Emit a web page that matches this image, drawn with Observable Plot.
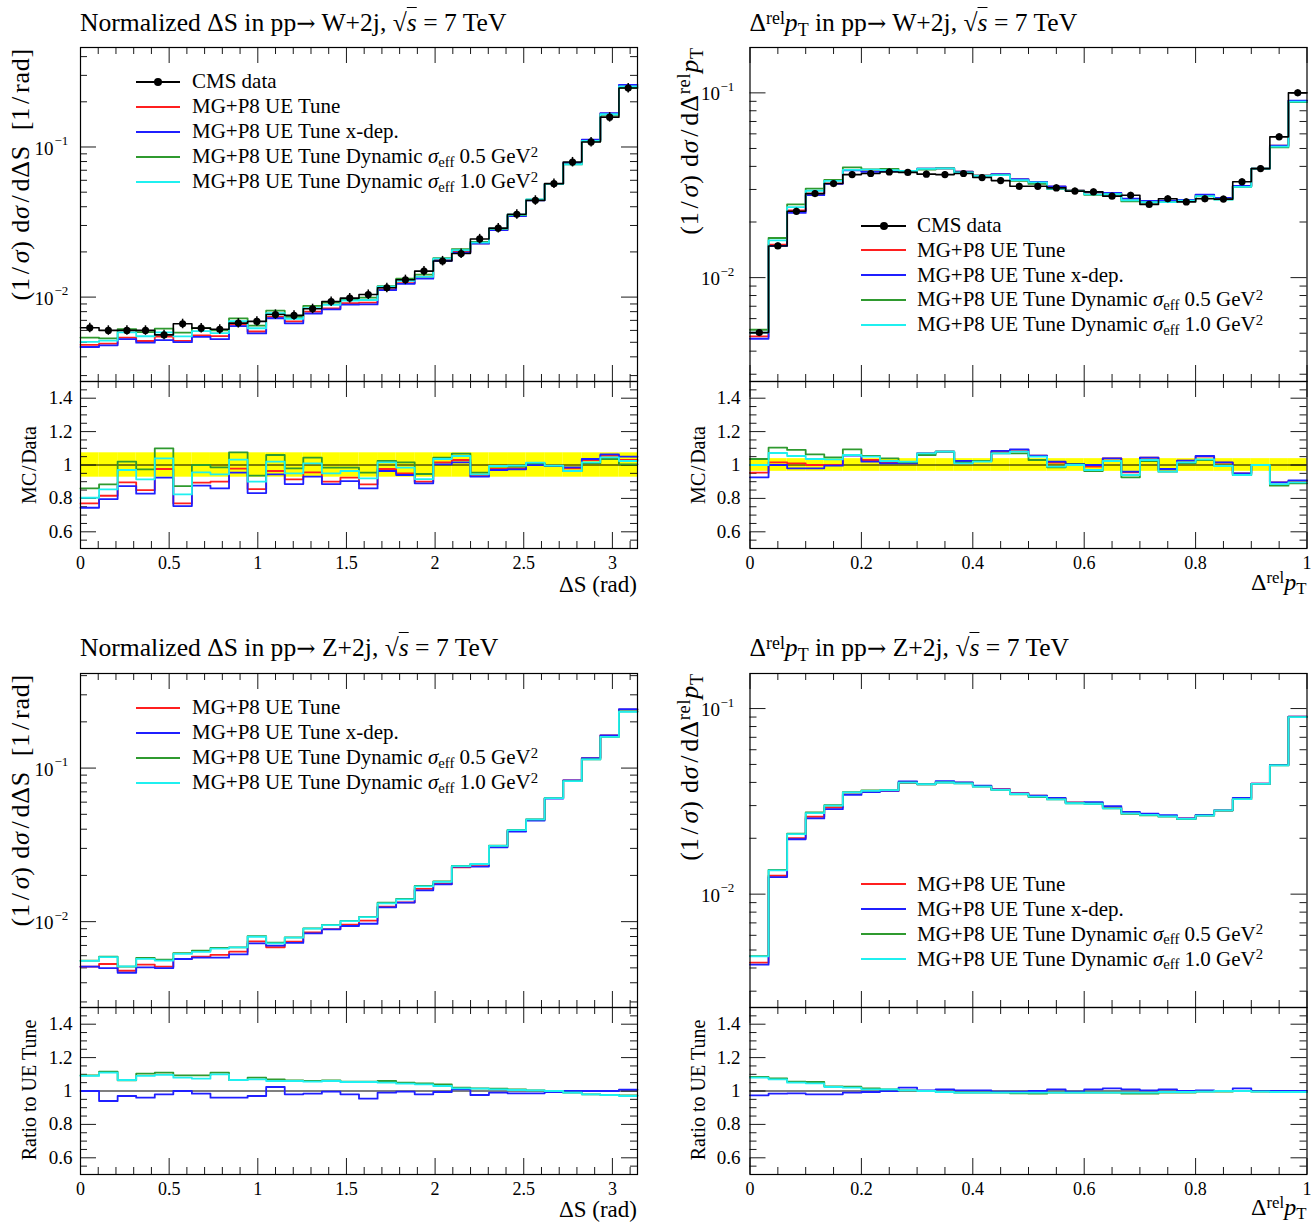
<!DOCTYPE html>
<html>
<head>
<meta charset="utf-8">
<script src="https://cdn.jsdelivr.net/npm/d3@7"></script>
<script src="https://cdn.jsdelivr.net/npm/@observablehq/plot@0.6"></script>
<style>
  html, body { margin: 0; padding: 0; background: #fff; }
  #page { position: relative; width: 1316px; height: 1222px; overflow: hidden; background: #fff;
          font-family: "Liberation Serif", "DejaVu Serif", serif; color: #000; }
  #page > svg { position: absolute; }
  .lbl { position: absolute; white-space: nowrap; line-height: 1; }
  .sup { position: relative; top: -0.42em; font-size: 70%; }
  .sub { position: relative; top: 0.25em; font-size: 70%; }
  .ovl { text-decoration: overline; text-decoration-thickness: 1.4px; }
  .arr { font-family: "DejaVu Serif", serif; font-size: 90%; }
  .legline { position: absolute; height: 2px; }
  .legdot { position: absolute; width: 8px; height: 8px; border-radius: 50%; background: #000; }
</style>
</head>
<body>
<div id="page"></div>
<script>
// ---------------------------------------------------------------------------
// Binning: 30 equal bins in ΔS over [0, π] and in Δrel pT over [0, 1]
// ---------------------------------------------------------------------------
const dsEdges = d3.range(31).map(i => i * Math.PI / 30);
const ptEdges = d3.range(31).map(i => i / 30);

// Axis ticks and labels
const dsTicks = [0, 0.5, 1, 1.5, 2, 2.5, 3];
const dsTickLabels = ["0", "0.5", "1", "1.5", "2", "2.5", "3"];
const ptTicks = [0, 0.2, 0.4, 0.6, 0.8, 1];
const ptTickLabels = ["0", "0.2", "0.4", "0.6", "0.8", "1"];
const ratioTicks = [0.6, 0.8, 1, 1.2, 1.4];
const ratioTickLabels = ["0.6", "0.8", "1", "1.2", "1.4"];
const logTicks = [0.01, 0.1];
const logTickExponents = ["\u22122", "\u22121"];

// Series names and colours
const seriesNames = [
  "CMS data",
  "MG+P8 UE Tune",
  "MG+P8 UE Tune x-dep.",
  "MG+P8 UE Tune Dynamic <i>σ</i><span class='sub'>eff</span> 0.5 GeV<span class='sup'>2</span>",
  "MG+P8 UE Tune Dynamic <i>σ</i><span class='sub'>eff</span> 1.0 GeV<span class='sup'>2</span>"
];
const seriesColors = ["#000000", "#ff1f1f", "#1f1fff", "#2f9a2f", "#1ff0f0"];

// ---------------------------------------------------------------------------
// pp -> W+2j, normalized ΔS: CMS data and MC/Data ratios
// ---------------------------------------------------------------------------
const wDsData = [0.00625, 0.0060, 0.0060, 0.0060, 0.0056, 0.00664, 0.00621, 0.0061, 0.00671, 0.00689,
                 0.00766, 0.00755, 0.00836, 0.00935, 0.00985, 0.0104, 0.01154, 0.01305, 0.0149, 0.0174,
                 0.0195, 0.0244, 0.0288, 0.0356, 0.0441, 0.057, 0.0794, 0.108, 0.158, 0.247];
const wDsErr = [0.073, 0.073, 0.073, 0.073, 0.073, 0.073, 0.073, 0.073, 0.073, 0.073,
                0.073, 0.073, 0.073, 0.073, 0.073, 0.073, 0.073, 0.073, 0.073, 0.073,
                0.073, 0.073, 0.073, 0.073, 0.073, 0.073, 0.073, 0.073, 0.073, 0.073];
const wDsRatioUE = [0.77, 0.816, 0.896, 0.85, 0.976, 0.77, 0.894, 0.9, 0.978, 0.856,
                    0.964, 0.914, 0.956, 0.9, 0.924, 0.884, 0.976, 0.95, 0.9, 1.016,
                    1.03, 0.934, 0.976, 0.98, 1.008, 0.996, 0.98, 1.03, 1.056, 1.03];
const wDsRatioXdep = [0.744, 0.796, 0.874, 0.828, 0.924, 0.754, 0.876, 0.86, 0.954, 0.832,
                      0.944, 0.886, 0.93, 0.886, 0.904, 0.86, 0.964, 0.94, 0.89, 1.004,
                      1.016, 0.93, 0.97, 0.974, 1.0, 0.994, 0.986, 1.036, 1.064, 1.05];
const wDsRatioDyn05 = [0.86, 0.884, 1.02, 0.974, 1.1, 0.874, 1.0, 0.986, 1.076, 0.936,
                       1.06, 0.98, 1.044, 0.984, 0.984, 0.954, 1.024, 1.016, 0.946, 1.044,
                       1.068, 0.954, 0.99, 0.99, 1.01, 0.996, 0.964, 1.01, 1.036, 1.004];
const wDsRatioDyn10 = [0.804, 0.854, 0.97, 0.914, 1.04, 0.824, 0.956, 0.944, 1.032, 0.9,
                       1.02, 0.95, 1.01, 0.95, 0.964, 0.92, 1.016, 0.984, 0.916, 1.036,
                       1.054, 0.944, 0.994, 0.996, 1.014, 0.996, 0.964, 1.016, 1.046, 1.024];

// ---------------------------------------------------------------------------
// pp -> W+2j, Δrel pT: CMS data and MC/Data ratios
// ---------------------------------------------------------------------------
const wPtData = [0.00504, 0.01484, 0.02286, 0.0285, 0.0323, 0.0361, 0.0366, 0.0373, 0.0371, 0.0363,
                 0.0361, 0.0366, 0.0348, 0.0335, 0.0312, 0.0312, 0.0306, 0.0294, 0.0291, 0.0276,
                 0.0279, 0.0249, 0.0267, 0.0257, 0.0267, 0.0266, 0.033, 0.0389, 0.0578, 0.1];
const wPtErr = [0.038, 0.038, 0.038, 0.038, 0.038, 0.038, 0.038, 0.038, 0.038, 0.038,
                0.038, 0.038, 0.038, 0.038, 0.038, 0.038, 0.038, 0.038, 0.038, 0.038,
                0.038, 0.038, 0.038, 0.038, 0.038, 0.038, 0.038, 0.038, 0.038, 0.038];
const wPtRatioUE = [0.954, 1.016, 1.01, 1.0, 1.0, 1.06, 1.03, 1.014, 1.01, 1.07,
                    1.08, 1.024, 1.024, 1.08, 1.09, 1.056, 1.014, 1.006, 0.99, 1.04,
                    0.956, 1.044, 0.974, 1.026, 1.05, 1.014, 0.95, 1.0, 0.896, 0.904];
const wPtRatioXdep = [0.926, 1.0, 0.98, 0.98, 0.996, 1.056, 1.02, 1.01, 1.01, 1.07,
                      1.08, 1.024, 1.024, 1.084, 1.094, 1.056, 1.02, 1.006, 1.0, 1.04,
                      0.96, 1.044, 0.976, 1.026, 1.054, 1.016, 0.95, 1.0, 0.896, 0.908];
const wPtRatioDyn05 = [1.036, 1.104, 1.09, 1.064, 1.046, 1.094, 1.054, 1.04, 1.016, 1.06,
                       1.08, 1.014, 1.024, 1.07, 1.07, 1.03, 0.986, 1.004, 0.964, 1.024,
                       0.926, 1.024, 0.96, 1.01, 1.03, 0.996, 0.94, 1.0, 0.876, 0.89];
const wPtRatioDyn10 = [1.0, 1.072, 1.054, 1.036, 1.034, 1.06, 1.05, 1.024, 1.02, 1.07,
                       1.08, 1.01, 1.02, 1.07, 1.08, 1.05, 0.99, 1.0, 0.97, 1.024,
                       0.94, 1.03, 0.96, 1.016, 1.034, 0.994, 0.94, 1.0, 0.886, 0.896];

// ---------------------------------------------------------------------------
// pp -> Z+2j, normalized ΔS: UE Tune and ratios to UE Tune
// ---------------------------------------------------------------------------
const zDsUE = [0.00509, 0.0053, 0.00479, 0.00525, 0.00509, 0.00571, 0.00592, 0.00607, 0.00637, 0.00745,
               0.00681, 0.00742, 0.00852, 0.00895, 0.00956, 0.01016, 0.01253, 0.01337, 0.01633, 0.0176,
               0.0226, 0.0234, 0.0308, 0.0392, 0.0462, 0.0637, 0.0831, 0.1162, 0.1634, 0.24];
const zDsRatioXdep = [1.0, 0.94, 0.97, 0.96, 0.98, 1.0, 0.984, 0.96, 0.96, 0.97,
                      1.024, 0.98, 0.984, 0.996, 0.98, 0.954, 0.99, 0.996, 0.98, 0.994,
                      1.01, 0.976, 0.99, 0.986, 0.986, 0.994, 1.0, 1.0, 1.0, 1.008];
const zDsRatioDyn05 = [1.094, 1.116, 1.064, 1.104, 1.11, 1.094, 1.094, 1.11, 1.066, 1.08,
                       1.07, 1.064, 1.06, 1.064, 1.056, 1.056, 1.06, 1.05, 1.046, 1.04,
                       1.02, 1.016, 1.014, 1.01, 1.004, 1.0, 0.99, 0.98, 0.976, 0.974];
const zDsRatioDyn10 = [1.09, 1.11, 1.066, 1.09, 1.096, 1.08, 1.074, 1.1, 1.066, 1.07,
                       1.06, 1.06, 1.056, 1.06, 1.054, 1.054, 1.05, 1.044, 1.04, 1.03,
                       1.016, 1.014, 1.01, 1.006, 1.004, 1.0, 0.99, 0.98, 0.976, 0.97];

// ---------------------------------------------------------------------------
// pp -> Z+2j, Δrel pT: UE Tune and ratios to UE Tune
// ---------------------------------------------------------------------------
const zPtUE = [0.00428, 0.01256, 0.02004, 0.02612, 0.0293, 0.0346, 0.0357, 0.036, 0.0397, 0.0391,
               0.0402, 0.0399, 0.0383, 0.0368, 0.035, 0.0339, 0.0327, 0.0312, 0.031, 0.0293,
               0.0275, 0.027, 0.0264, 0.0256, 0.0266, 0.0283, 0.0325, 0.0394, 0.0497, 0.0905];
const zPtRatioXdep = [0.974, 0.984, 0.986, 0.98, 0.98, 0.99, 0.994, 1.0, 1.02, 1.004,
                      1.01, 1.004, 1.004, 0.996, 0.996, 1.0, 1.01, 0.996, 1.01, 1.016,
                      1.01, 1.004, 1.01, 1.0, 1.004, 1.0, 1.016, 1.0, 1.0, 1.0];
const zPtRatioDyn05 = [1.084, 1.076, 1.056, 1.054, 1.028, 1.026, 1.016, 1.01, 1.004, 1.0,
                       0.994, 0.99, 0.99, 0.99, 0.986, 0.984, 0.99, 0.99, 0.99, 0.99,
                       0.984, 0.984, 0.99, 0.99, 0.996, 0.996, 1.0, 0.996, 0.994, 0.994];
const zPtRatioDyn10 = [1.08, 1.07, 1.05, 1.046, 1.024, 1.02, 1.01, 1.01, 1.004, 1.0,
                       0.994, 0.99, 0.99, 0.99, 0.99, 0.99, 0.99, 0.99, 0.99, 0.99,
                       0.99, 0.99, 0.994, 0.994, 0.996, 1.0, 1.0, 0.996, 0.994, 0.994];

// ---------------------------------------------------------------------------
// Helpers
// ---------------------------------------------------------------------------
const page = document.getElementById("page");
const FONT = '"Liberation Serif", "DejaVu Serif", serif';
const TICK_MAJOR = 16, TICK_MINOR = 7;
const LINE_W = 1.8;

const times = (base, ratio) => base.map((v, i) => v * ratio[i]);
// histogram outline as a polyline through both edges of every bin
const steps = (edges, vals) => vals.flatMap((v, i) => [[edges[i], v], [edges[i + 1], v]]);
const notIn = (majors) => (v) => !majors.some(m => Math.abs(m - v) < 1e-9);

const dsMinor = d3.range(1, 32).map(i => i / 10).filter(notIn(dsTicks));
const ptMinor = d3.range(1, 20).map(i => i / 20).filter(notIn(ptTicks));
const ratioMinor = d3.range(11, 30).map(i => i / 20).filter(notIn(ratioTicks));
function logMinor([lo, hi]) {
  const out = [];
  for (let e = -4; e <= 0; e++) for (let m = 2; m <= 9; m++) {
    const v = m * Math.pow(10, e);
    if (v > lo && v < hi) out.push(v);
  }
  return out;
}

// inward ticks on all four sides of the frame
function frameTicks(xMaj, xMin, yMaj, yMin, innerW, innerH) {
  const s = {stroke: "#1a1a1a", strokeWidth: 1};
  const marks = [];
  for (const [vals, len] of [[xMaj, TICK_MAJOR], [xMin, TICK_MINOR]]) {
    marks.push(Plot.tickX(vals, {x: d => d, insetTop: innerH - len, ...s}));
    marks.push(Plot.tickX(vals, {x: d => d, insetBottom: innerH - len, ...s}));
  }
  for (const [vals, len] of [[yMaj, TICK_MAJOR], [yMin, TICK_MINOR]]) {
    marks.push(Plot.tickY(vals, {y: d => d, insetRight: innerW - len, ...s}));
    marks.push(Plot.tickY(vals, {y: d => d, insetLeft: innerW - len, ...s}));
  }
  return marks;
}

function place(node, left, top) {
  node.style.left = left + "px";
  node.style.top = top + "px";
  page.appendChild(node);
}

function label(html, {left, baseline, fs, align = "left"}) {
  const d = document.createElement("div");
  d.className = "lbl";
  d.innerHTML = html;
  d.style.fontSize = fs + "px";
  d.style.left = left + "px";
  d.style.top = (baseline - 0.8375 * fs) + "px";
  if (align === "right") d.style.transform = "translateX(-100%)";
  page.appendChild(d);
  return d;
}

// rotated axis title: reads bottom to top, either ending at `y` (anchor "end") or centred on it
function vlabel(html, {cx, y, fs, anchor = "end", spacing = 0}) {
  const d = document.createElement("div");
  d.className = "lbl";
  d.innerHTML = html;
  d.style.fontSize = fs + "px";
  d.style.letterSpacing = spacing + "px";
  d.style.left = cx + "px";
  d.style.top = y + "px";
  d.style.transformOrigin = "0 0";
  d.style.transform = anchor === "end"
    ? "rotate(-90deg) translate(-100%, -50%)"
    : "rotate(-90deg) translate(-50%, -50%)";
  page.appendChild(d);
}

function legend({x0, x1, xText, rows, fs, withData}) {
  const idx = withData ? [0, 1, 2, 3, 4] : [1, 2, 3, 4];
  idx.forEach((k, j) => {
    const y = rows[j];
    const ln = document.createElement("div");
    ln.className = "legline";
    ln.style.background = seriesColors[k];
    ln.style.width = (x1 - x0) + "px";
    place(ln, x0, y - 1);
    if (k === 0) {
      const dot = document.createElement("div");
      dot.className = "legdot";
      place(dot, (x0 + x1) / 2 - 4, y - 4);
    }
    label(seriesNames[k], {left: xText, baseline: y + 0.33 * fs, fs});
  });
}

// ---------------------------------------------------------------------------
// Panel: upper log-scale distribution and lower ratio strip
// ---------------------------------------------------------------------------
function panel(cfg) {
  const {left, top, mL, mR, edges, xMax, xTicks, xTickLabels, xMinor,
         yDomain, mc, data, err, ratios, band, logDx, ratioLabelDx, ratioH} = cfg;
  const W = 658, mainH = 382, mT = 47;
  const innerW = W - mL - mR, innerH = mainH - mT - 1;
  const style = {background: "transparent", overflow: "visible", fontFamily: FONT};

  const mainMarks = [
    ...frameTicks(xTicks, xMinor, logTicks, logMinor(yDomain), innerW, innerH),
    ...mc.map(s => Plot.line(steps(edges, s.values), {stroke: s.color, strokeWidth: LINE_W})),
  ];
  if (data) {
    const pts = data.map((v, i) => ({x: (edges[i] + edges[i + 1]) / 2, y: v, lo: v * (1 - err[i]), hi: v * (1 + err[i])}));
    mainMarks.push(Plot.line(steps(edges, data), {stroke: "#000", strokeWidth: 1.6}));
    mainMarks.push(Plot.ruleX(pts, {x: "x", y1: "lo", y2: "hi", stroke: "#000", strokeWidth: 1.5}));
    mainMarks.push(Plot.dot(pts, {x: "x", y: "y", r: 3.6, fill: "#000", stroke: "none"}));
  }
  mainMarks.push(Plot.text(logTicks, {y: d => d, frameAnchor: "left", dx: logDx[0], dy: 1.5,
    textAnchor: "end", text: () => "10", fontSize: 19}));
  mainMarks.push(Plot.text(logTicks, {y: d => d, frameAnchor: "left", dx: logDx[1], dy: -6,
    textAnchor: "start", text: (d, i) => logTickExponents[i], fontSize: 13}));
  mainMarks.push(Plot.frame({stroke: "#000", strokeWidth: 1.2}));

  place(Plot.plot({
    width: W, height: mainH, marginLeft: mL, marginRight: mR, marginTop: mT, marginBottom: 1,
    x: {domain: [0, xMax], axis: null},
    y: {type: "log", domain: yDomain, axis: null},
    style, marks: mainMarks
  }), left, top);

  // ratio strip
  const rH = 167;
  const ratioMarks = [];
  if (band) {
    ratioMarks.push(Plot.rect(band.map((e, i) => ({x1: edges[i], x2: edges[i + 1], y1: 1 - e, y2: 1 + e})),
      {x1: "x1", x2: "x2", y1: "y1", y2: "y2", fill: "#ffff00"}));
  }
  ratioMarks.push(...frameTicks(xTicks, xMinor, ratioTicks, ratioMinor, innerW, rH));
  ratioMarks.push(Plot.ruleY([1], {stroke: "#000", strokeWidth: 1.2}));
  ratioMarks.push(...ratios.map(s => Plot.line(steps(edges, s.values), {stroke: s.color, strokeWidth: LINE_W})));
  ratioMarks.push(Plot.text(ratioTicks, {y: d => d, frameAnchor: "left", dx: ratioLabelDx, textAnchor: "end",
    text: (d, i) => ratioTickLabels[i], fontSize: 19}));
  ratioMarks.push(Plot.text(xTicks, {x: d => d, frameAnchor: "bottom", dy: 20.5,
    text: (d, i) => xTickLabels[i], fontSize: 18}));
  ratioMarks.push(Plot.frame({stroke: "#000", strokeWidth: 1.2}));

  place(Plot.plot({
    width: W, height: ratioH, marginLeft: mL, marginRight: mR, marginTop: 0, marginBottom: ratioH - rH,
    x: {domain: [0, xMax], axis: null},
    y: {domain: [0.5, 1.5], axis: null},
    style, marks: ratioMarks
  }), left, top + mainH - 1);
}

// ---------------------------------------------------------------------------
// Build the four panels
// ---------------------------------------------------------------------------
const colUE = seriesColors[1], colX = seriesColors[2], col05 = seriesColors[3], col10 = seriesColors[4];

// W+2j, ΔS
panel({
  left: 0, top: 0, mL: 80, mR: 21, edges: dsEdges, xMax: Math.PI,
  xTicks: dsTicks, xTickLabels: dsTickLabels, xMinor: dsMinor,
  yDomain: [0.00274, 0.46],
  mc: [
    {values: times(wDsData, wDsRatioUE), color: colUE},
    {values: times(wDsData, wDsRatioXdep), color: colX},
    {values: times(wDsData, wDsRatioDyn05), color: col05},
    {values: times(wDsData, wDsRatioDyn10), color: col10}
  ],
  data: wDsData, err: wDsErr, band: wDsErr,
  ratios: [
    {values: wDsRatioUE, color: colUE}, {values: wDsRatioXdep, color: colX},
    {values: wDsRatioDyn05, color: col05}, {values: wDsRatioDyn10, color: col10}
  ],
  logDx: [-27, -26], ratioLabelDx: -8, ratioH: 222
});

// W+2j, Δrel pT
panel({
  left: 658, top: 0, mL: 91.5, mR: 9.5, edges: ptEdges, xMax: 1,
  xTicks: ptTicks, xTickLabels: ptTickLabels, xMinor: ptMinor,
  yDomain: [0.00274, 0.176],
  mc: [
    {values: times(wPtData, wPtRatioUE), color: colUE},
    {values: times(wPtData, wPtRatioXdep), color: colX},
    {values: times(wPtData, wPtRatioDyn05), color: col05},
    {values: times(wPtData, wPtRatioDyn10), color: col10}
  ],
  data: wPtData, err: wPtErr, band: wPtErr,
  ratios: [
    {values: wPtRatioUE, color: colUE}, {values: wPtRatioXdep, color: colX},
    {values: wPtRatioDyn05, color: col05}, {values: wPtRatioDyn10, color: col10}
  ],
  logDx: [-30, -29.5], ratioLabelDx: -9.5, ratioH: 222
});

// Z+2j, ΔS
panel({
  left: 0, top: 626, mL: 80, mR: 21, edges: dsEdges, xMax: Math.PI,
  xTicks: dsTicks, xTickLabels: dsTickLabels, xMinor: dsMinor,
  yDomain: [0.00276, 0.413],
  mc: [
    {values: zDsUE, color: colUE},
    {values: times(zDsUE, zDsRatioXdep), color: colX},
    {values: times(zDsUE, zDsRatioDyn05), color: col05},
    {values: times(zDsUE, zDsRatioDyn10), color: col10}
  ],
  ratios: [
    {values: zDsRatioXdep, color: colX},
    {values: zDsRatioDyn05, color: col05}, {values: zDsRatioDyn10, color: col10}
  ],
  logDx: [-27, -26], ratioLabelDx: -8, ratioH: 215
});

// Z+2j, Δrel pT
panel({
  left: 658, top: 626, mL: 91.5, mR: 9.5, edges: ptEdges, xMax: 1,
  xTicks: ptTicks, xTickLabels: ptTickLabels, xMinor: ptMinor,
  yDomain: [0.00245, 0.1545],
  mc: [
    {values: zPtUE, color: colUE},
    {values: times(zPtUE, zPtRatioXdep), color: colX},
    {values: times(zPtUE, zPtRatioDyn05), color: col05},
    {values: times(zPtUE, zPtRatioDyn10), color: col10}
  ],
  ratios: [
    {values: zPtRatioXdep, color: colX},
    {values: zPtRatioDyn05, color: col05}, {values: zPtRatioDyn10, color: col10}
  ],
  logDx: [-30, -29.5], ratioLabelDx: -9.5, ratioH: 215
});

// ---------------------------------------------------------------------------
// Titles, axis titles and legends
// ---------------------------------------------------------------------------
const sqrtS = "√<span class='ovl'><i>s</i></span>";
const arrow = "<span class='arr'>→</span>";
const relPt = "Δ<span class='sup'>rel</span><i>p</i><span class='sub'>T</span>";
label(`Normalized ΔS in pp${arrow} W+2j, ${sqrtS} = 7 TeV`, {left: 80, baseline: 31.7, fs: 25.6});
label(`${relPt} in pp${arrow} W+2j, ${sqrtS} = 7 TeV`, {left: 749.5, baseline: 31.7, fs: 25.6});
label(`Normalized ΔS in pp${arrow} Z+2j, ${sqrtS} = 7 TeV`, {left: 80, baseline: 656.7, fs: 25.6});
label(`${relPt} in pp${arrow} Z+2j, ${sqrtS} = 7 TeV`, {left: 749.5, baseline: 656.7, fs: 25.6});

label("ΔS (rad)", {left: 637, baseline: 592, fs: 23, align: "right"});
label(relPt, {left: 1306.5, baseline: 590, fs: 24, align: "right"});
label("ΔS (rad)", {left: 637, baseline: 1217, fs: 23, align: "right"});
label(relPt, {left: 1306.5, baseline: 1215, fs: 24, align: "right"});

const yDs = "(1&#8202;/&#8202;<i>σ</i>) d<i>σ</i>&#8202;/&#8202;dΔS&nbsp;&nbsp;[1&#8202;/&#8202;rad]";
const yPt = `(1&#8202;/&#8202;<i>σ</i>) d<i>σ</i>&#8202;/&#8202;d${relPt}`;
vlabel(yDs, {cx: 21, y: 48, fs: 26, spacing: 0.8});
vlabel(yPt, {cx: 690, y: 47, fs: 26, spacing: 0.8});
vlabel(yDs, {cx: 21, y: 674, fs: 26, spacing: 0.8});
vlabel(yPt, {cx: 690, y: 673, fs: 26, spacing: 0.8});
vlabel("MC&#8202;/&#8202;Data", {cx: 29, y: 464.5, fs: 20, anchor: "middle"});
vlabel("MC&#8202;/&#8202;Data", {cx: 698, y: 464.5, fs: 20, anchor: "middle"});
vlabel("Ratio to UE Tune", {cx: 29, y: 1090, fs: 20, anchor: "middle"});
vlabel("Ratio to UE Tune", {cx: 698, y: 1090, fs: 20, anchor: "middle"});

legend({x0: 136, x1: 180, xText: 192, rows: [81.5, 106.5, 131.5, 156.5, 181.5], fs: 21, withData: true});
legend({x0: 861, x1: 906, xText: 917, rows: [225.7, 250.3, 275.3, 300, 325], fs: 21, withData: true});
legend({x0: 136, x1: 180, xText: 192, rows: [707.7, 732.7, 757.7, 782.7], fs: 21, withData: false});
legend({x0: 861, x1: 906, xText: 917, rows: [884.3, 909.3, 934.3, 959.3], fs: 21, withData: false});
</script>
</body>
</html>
